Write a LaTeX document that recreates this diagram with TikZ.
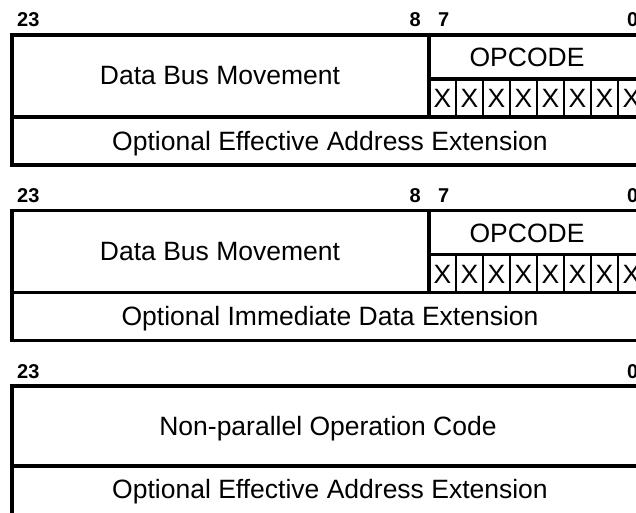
\documentclass[tikz,border=0pt]{standalone}
\usepackage{fontspec}
\setmainfont{Liberation Sans}

\begin{document}
\begin{tikzpicture}[x=1pt, y=-1pt,
    frame/.style={line width=3.6pt},
    cellline/.style={line width=2.4pt},
    field/.style={font=\fontsize{26.5}{30}\selectfont, inner sep=0pt, anchor=base},
    bitno/.style={font=\fontsize{20}{22}\selectfont\bfseries, inner sep=0pt}]
\useasboundingbox (0,0) rectangle (636,513);

% Format 1 - effective address extension
\node[bitno, anchor=base west] (hiA) at (17,27) {23};
\node[bitno, anchor=base east] (eightA) at (421,27) {8};
\node[bitno, anchor=base west] (sevenA) at (438,27) {7};
\node[bitno, anchor=base west] (loA) at (627,27) {0};
\draw[frame] (12,35) rectangle (645,165);
\draw[frame] (12,117) -- (645,117);
\draw[frame] (429,35) -- (429,117);
\draw[frame] (429,79) -- (645,79);
\foreach \i in {1,...,7} \draw[cellline] (429+27*\i,79) -- (429+27*\i,117);
\foreach \i in {0,...,7} \node[field] (xA\i) at (442.5+27*\i,108) {X};
\node[field] (busA) at (220,85) {Data Bus Movement};
\node[field] (opA) at (527,67) {OPCODE};
\node[field] (extA) at (330,150) {Optional Effective Address Extension};

% Format 2 - immediate data extension
\node[bitno, anchor=base west] (hiB) at (17,202.5) {23};
\node[bitno, anchor=base east] (eightB) at (421,202.5) {8};
\node[bitno, anchor=base west] (sevenB) at (438,202.5) {7};
\node[bitno, anchor=base west] (loB) at (627,202.5) {0};
\draw[frame] (12,210.5) rectangle (645,340.5);
\draw[frame] (12,292.5) -- (645,292.5);
\draw[frame] (429,210.5) -- (429,292.5);
\draw[frame] (429,254.5) -- (645,254.5);
\foreach \i in {1,...,7} \draw[cellline] (429+27*\i,254.5) -- (429+27*\i,292.5);
\foreach \i in {0,...,7} \node[field] (xB\i) at (442.5+27*\i,283.5) {X};
\node[field] (busB) at (220,260.5) {Data Bus Movement};
\node[field] (opB) at (527,242.5) {OPCODE};
\node[field] (extB) at (330,325.5) {Optional Immediate Data Extension};

% Format 3 - non-parallel instruction
\node[bitno, anchor=base west] (hiC) at (17,378) {23};
\node[bitno, anchor=base west] (loC) at (627,378) {0};
\draw[frame] (12,520) -- (12,386) -- (645,386);
\draw[frame] (12,466) -- (645,466);
\node[field] (npC) at (328,435) {Non-parallel Operation Code};
\node[field] (extC) at (330,498) {Optional Effective Address Extension};
\end{tikzpicture}
\end{document}
